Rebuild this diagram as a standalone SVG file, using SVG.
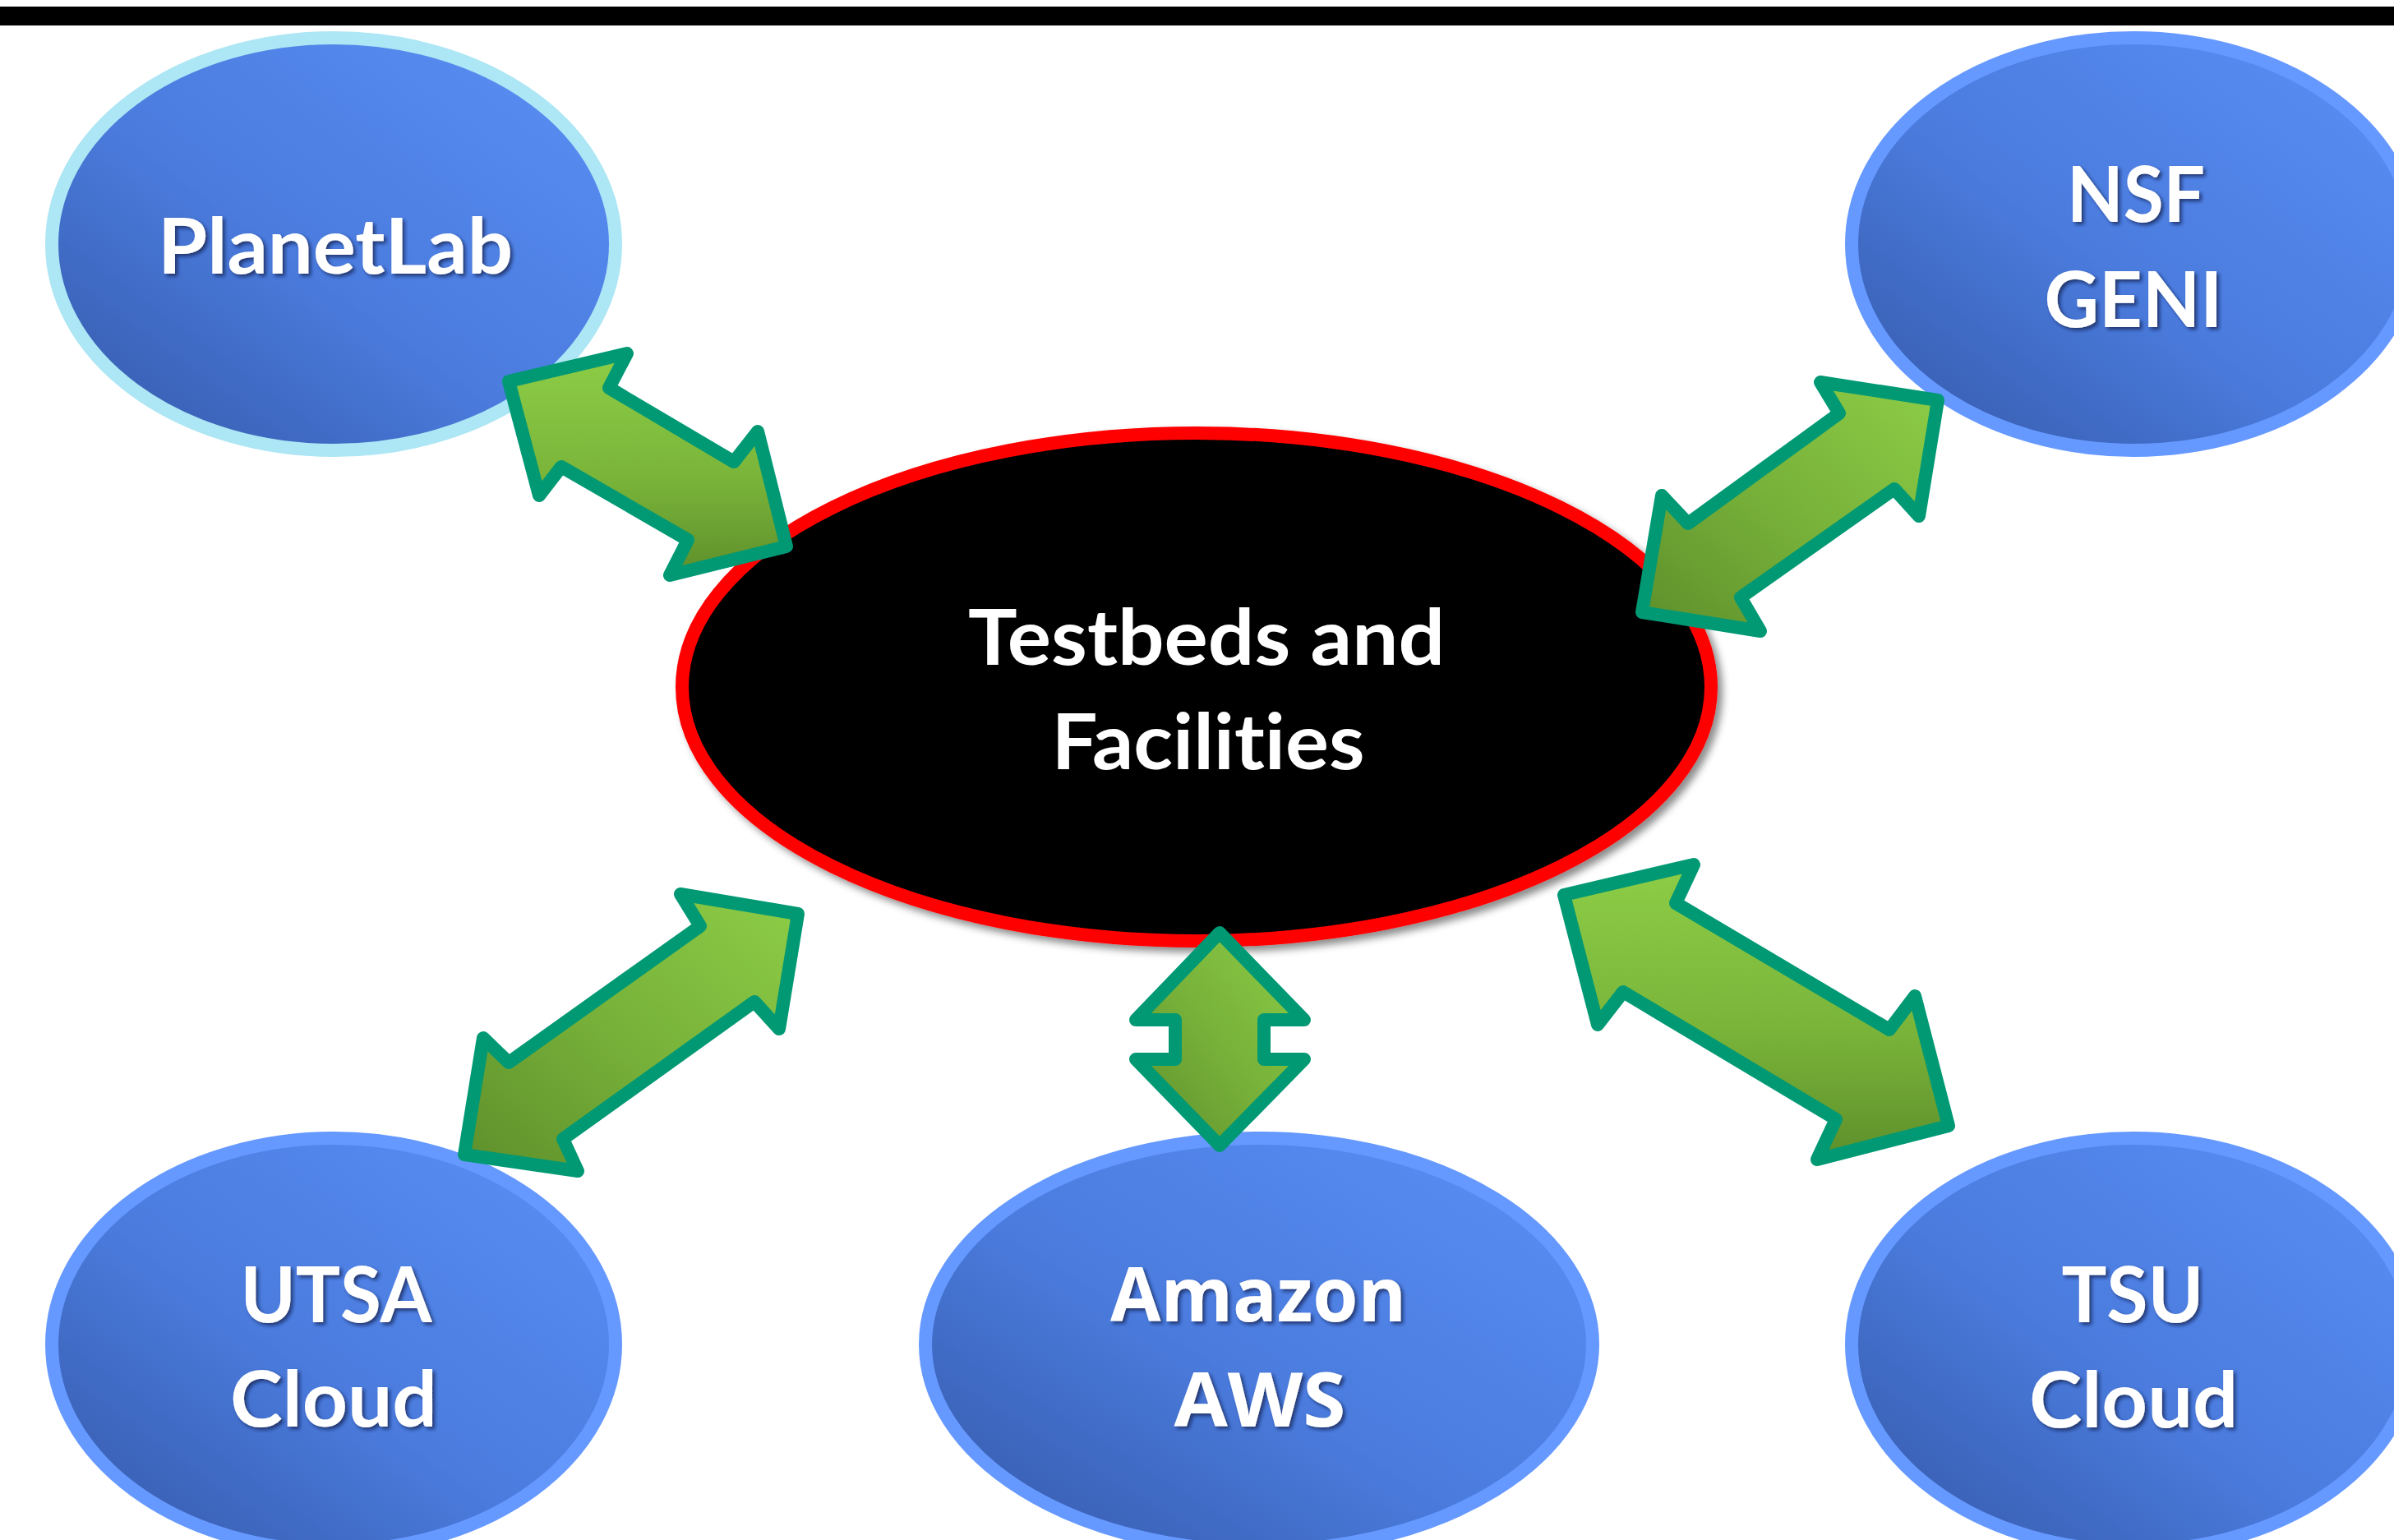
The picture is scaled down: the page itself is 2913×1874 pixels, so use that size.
<svg xmlns="http://www.w3.org/2000/svg" width="2913" height="1874" viewBox="0 0 2913 1874">
  <defs>
    <linearGradient id="blueGrad" x1="0" y1="1" x2="1" y2="0">
      <stop offset="0" stop-color="#3457A6"/>
      <stop offset="0.45" stop-color="#4A7BDD"/>
      <stop offset="1" stop-color="#5B90F6"/>
    </linearGradient>
    <linearGradient id="greenV" x1="0" y1="0" x2="0" y2="1">
      <stop offset="0" stop-color="#8DCD46"/>
      <stop offset="0.55" stop-color="#7AB53A"/>
      <stop offset="1" stop-color="#5E8F2B"/>
    </linearGradient>
    <linearGradient id="greenD" x1="0" y1="1" x2="1" y2="0">
      <stop offset="0" stop-color="#5E8F2B"/>
      <stop offset="0.5" stop-color="#78B23A"/>
      <stop offset="1" stop-color="#8DCD46"/>
    </linearGradient>
    <filter id="hubShadow" x="-10%" y="-10%" width="120%" height="125%">
      <feDropShadow dx="6" dy="6" stdDeviation="5" flood-color="#000" flood-opacity="0.45"/>
    </filter>
    <filter id="txtShadow" x="-5%" y="-10%" width="110%" height="130%">
      <feDropShadow dx="3" dy="3" stdDeviation="2" flood-color="#0f1f45" flood-opacity="0.7"/>
    </filter>
  </defs>
  <style>
    .node { fill: url(#blueGrad); stroke: #6699FF; stroke-width: 16; }
    .node.pl { stroke: #ADE6F4; }
    .lbl { font-family: Lato, "Liberation Sans", sans-serif; font-weight: 700; font-size: 94px; fill: #FFFFFF; text-anchor: middle; filter: url(#txtShadow); font-variant-ligatures: none; font-feature-settings: "liga" 0, "clig" 0; }
    .lbl.os { font-family: "Open Sans", "Liberation Sans", sans-serif; font-size: 92px; }
    .hubtxt { font-family: Lato, "Liberation Sans", sans-serif; font-weight: 700; font-size: 94px; fill: #FFFFFF; text-anchor: middle; font-variant-ligatures: none; font-feature-settings: "liga" 0, "clig" 0; }
    .arrow { stroke: #009974; stroke-width: 16; stroke-linejoin: round; }
  </style>

  <rect x="0" y="8" width="2913" height="23" fill="#000000"/>

  <g id="hub">
    <ellipse cx="1456" cy="836" rx="626" ry="309" fill="#000000" stroke="#FF0000" stroke-width="16" filter="url(#hubShadow)"/>
    <text class="hubtxt" x="1468" y="809" textLength="580" lengthAdjust="spacingAndGlyphs">Testbeds and</text>
    <text class="hubtxt" x="1470" y="936" textLength="381" lengthAdjust="spacingAndGlyphs">Facilities</text>
  </g>

  <g id="planetlab">
    <ellipse class="node pl" cx="406" cy="297" rx="343" ry="251"/>
    <text class="lbl" x="408" y="333" textLength="432" lengthAdjust="spacingAndGlyphs">PlanetLab</text>
  </g>

  <g id="nsf-geni">
    <ellipse class="node" cx="2596" cy="297" rx="343" ry="251"/>
    <text class="lbl" x="2599" y="270" textLength="168" lengthAdjust="spacingAndGlyphs">NSF</text>
    <text class="lbl" x="2596" y="398" textLength="217" lengthAdjust="spacingAndGlyphs">GENI</text>
  </g>

  <g id="utsa-cloud">
    <ellipse class="node" cx="406" cy="1636" rx="343" ry="251"/>
    <text class="lbl" x="409" y="1609" textLength="233" lengthAdjust="spacingAndGlyphs">UTSA</text>
    <text class="lbl" x="406" y="1736" textLength="252" lengthAdjust="spacingAndGlyphs">Cloud</text>
  </g>

  <g id="amazon-aws">
    <ellipse class="node" cx="1532" cy="1636" rx="406" ry="251"/>
    <text class="lbl os" x="1531" y="1608" textLength="360" lengthAdjust="spacingAndGlyphs">Amazon</text>
    <text class="lbl os" x="1533" y="1736" textLength="209" lengthAdjust="spacingAndGlyphs">AWS</text>
  </g>

  <g id="tsu-cloud">
    <ellipse class="node" cx="2596" cy="1636" rx="343" ry="251"/>
    <text class="lbl" x="2595" y="1609" textLength="173" lengthAdjust="spacingAndGlyphs">TSU</text>
    <text class="lbl" x="2596" y="1737" textLength="254" lengthAdjust="spacingAndGlyphs">Cloud</text>
  </g>

  <g id="connectors">
    <polygon class="arrow" fill="url(#greenV)" points="619,464 763,430 741,472 893,562 922,525 957,665 815,700 837,657 683,568 656,603"/>
    <polygon class="arrow" fill="url(#greenD)" points="1998,745 2022,603 2054,637 2238,503 2215,465 2358,487 2335,628 2305,595 2118,727 2142,768"/>
    <polygon class="arrow" fill="url(#greenD)" points="971,1112 828,1088 852,1127 619,1293 588,1263 565,1405 703,1425 685,1386 918,1219 948,1252"/>
    <polygon class="arrow" fill="url(#greenD)" points="1484,1135 1587,1241 1538,1241 1538,1289 1587,1289 1484,1394 1382,1289 1430,1289 1430,1241 1382,1241"/>
    <polygon class="arrow" fill="url(#greenV)" points="1903,1089 2061,1052 2039,1099 2299,1253 2330,1212 2371,1370 2211,1411 2234,1362 1975,1207 1944,1247"/>
  </g>
</svg>
